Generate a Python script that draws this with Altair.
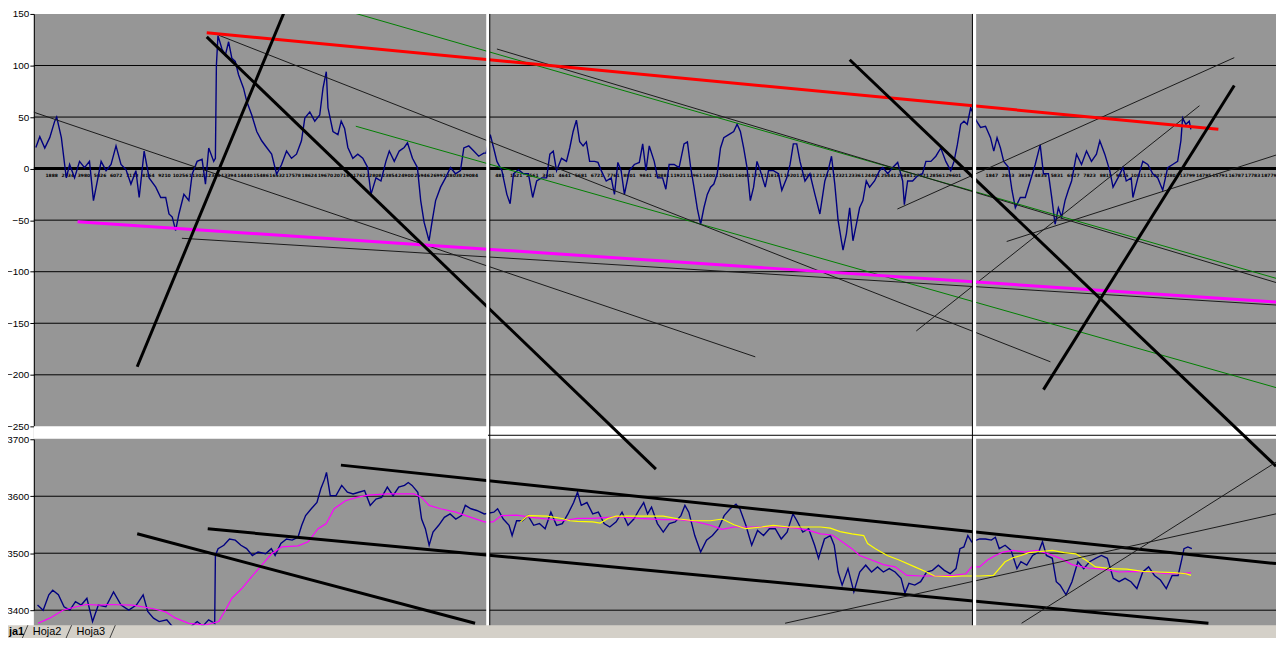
import altair as alt
import pandas as pd

# ---------------- panel scales (x = bar index, values in panel units) ----------------
X_DOMAIN = [34, 1284]
TOP_DOMAIN = [-250, 150]
BOT_DOMAIN = [3400, 3700]
TOP_TICKS = [150, 100, 50, 0, -50, -100, -150, -200, -250]
TOP_GRID = [100, 50, -50, -100, -150, -200]
TOP_ZERO = [0]
BOT_TICKS = [3700, 3600, 3500, 3400]
BOT_GRID = [3600, 3500, 3400]

# ---------------- top panel: oscillator ----------------
TOP_X = [36, 40, 45, 50, 55, 57, 61.7, 65, 66.7, 70, 75, 80, 85, 90, 94, 96.7, 101.7, 106.7, 111.7, 116.7,
         121.7, 126.7, 131.7, 136.7, 140, 145, 150, 156.7, 161.7, 166.7, 170, 173.3, 176.7, 180, 185, 190,
         193.3, 198.3, 203.3, 206.7, 210, 215, 216.7, 217.7, 219.3, 223.3, 226.7, 230, 233.3, 236.7, 240,
         245, 248.3, 253.3, 258.3, 263.3, 268.3, 273.3, 278.3, 283.3, 288.3, 293.3, 298.3, 303.3, 306.7,
         311.7, 316.7, 321.7, 325, 328.3, 330, 335, 340, 343.3, 346.7, 350, 355, 360, 365, 370, 373.3,
         378.3, 383.3, 388.3, 391.7, 396.7, 401.7, 406.7, 410, 415, 420, 423.3, 426.7, 431.7, 435, 438.3,
         443.3, 448.3, 453.3, 458.3, 463.3, 466.7, 471.7, 476.7, 481.7, 486.7, 489, 493.3, 496.7, 500, 505,
         510, 513.3, 516.7, 521.7, 526.7, 531.7, 536, 540, 545, 550, 553.3, 556.7, 560, 565, 570, 573.3,
         576.7, 580, 583.3, 586.7, 590, 593.3, 598.3, 601.7, 605, 610, 615, 618.3, 621.7, 625, 628.3, 633.3,
         638.3, 643.3, 646.7, 650, 653.3, 658.3, 661.7, 666.7, 670, 673.3, 678.3, 683.3, 688.3, 691.7, 695,
         698.3, 701.7, 705, 708.3, 711.7, 715, 718.3, 721.7, 725, 728.3, 733.3, 738.3, 741.7, 745, 748.3,
         751.7, 755, 758.3, 761.7, 765, 770, 773.3, 778.3, 783.3, 786.7, 791.7, 795, 798.3, 801.7, 805, 810,
         815, 820, 825, 830, 833.3, 836.7, 840, 843.3, 846.7, 848.3, 851.7, 855, 858.3, 861.7, 865, 868.3,
         871.7, 875, 880, 885, 888.3, 893.3, 898.3, 903.3, 908.3, 910, 913.3, 918.3, 923.3, 928.3, 931.7,
         936.7, 941.7, 946.7, 951.7, 956.7, 960, 963.3, 966.7, 970, 973.3, 976.7, 982.7, 986.7, 991.7, 996.7,
         1000, 1003.3, 1006.7, 1010, 1015, 1018.3, 1021.7, 1026.7, 1031.7, 1036.7, 1041.7, 1046.7, 1050, 1055,
         1058.3, 1061.7, 1065, 1068.3, 1071.7, 1075, 1078.3, 1083.3, 1088.3, 1093.3, 1098.3, 1103.3, 1106.7,
         1111.7, 1116.7, 1120, 1125, 1130, 1133.3, 1138.3, 1140, 1145, 1150, 1155, 1160, 1165, 1170, 1175,
         1180, 1185, 1188.3, 1190, 1193.3, 1196.7, 1198.3]
TOP_V = [20.5, 31, 20, 30, 46, 50, 30, 4, -9, 4, -9, 7, 1, 7, -31, -18, 7, -2, 4, 22,
         4, -1, -15, -2, -28, 17, -9, -18, -28, -28, -44, -47, -60, -44, -25, -31,
         -5.5, 7, 9, -15, 20, 7, 10, 100, 129, 116, 110, 123, 107, 104, 91,
         78, 65, 52, 36, 27, 20.5, 14, -5.5, 4, 17, 10, 14, 27, 49,
         55, 46, 52, 78, 94, 59, 36, 33, 46, 39, 20.5, 10, 14, 10, 1, -25,
         -9, -12, 7, 17, 7, 17, 20.5, 25, 10, 1, -31, -52, -70, -50, -31,
         -18, -9, 1, -5, -2, 20, 22, 17, 12, 15, 15, 33, 20, 7, -2,
         -25, -34, -5, -1, -5, -5, -28, -12, -9, -9, 14, 17, -2, 10, 7, 20,
         36, 47, 26, 22, 26, 7, 7, 6, -2, -12, -9, -25, 6, -2, -25, -2,
         4, 6, 24, -2, 22, 7, -9, -9, -20, 4, 4, 1, 24, 26, 1,
         -18, -39, -54, -38, -25, -18, -15, -5, 20, 30, 33, 36, 43, 36, 20,
         1, -31, -18, 7, -2, -18, -2, -2, -5, -21, -9, 4, 24, 24, 7, -12,
         -5, -25, -44, -12, -2, 12, -15, -50, -70, -79, -63, -38, -70, -54, -38, -31,
         -12, -18, -12, -2, 1, -5, 1, 6, -12, -35, -12, -12, -7, -5, 7,
         7, 12, 20, 7, -2, 7, 23, 43, 46, 43, 59, 46, 40, 41, 30,
         17, 30, 20, 7, 1, -21, -38, -28, -28, -12, 4, 23, -5, -5,
         -28, -54, -38, -47, -31, -21, -12, 14, 4, 17, 7, 14, 27,
         14, -2, -18, -9, 1, -12, -9, -28, -9, 7, 4, -5, -9, -21, 1,
         4, 7, 27, 49, 43, 46, 38]

# ---------------- bottom panel: price and two moving averages ----------------
BOT_X = [37.7, 43.4, 49.1, 53, 58.7, 64.4, 70.2, 75.9, 81.7, 87.4, 93.1, 98.9, 106.5, 114.2, 121.8, 129.5,
         137.2, 144, 148.6, 154.4, 160.1, 167.8, 175, 183, 191, 198.4, 204, 209.9, 216, 216.7, 219.4, 225.2,
         230.9, 236.7, 242.4, 248.1, 253.9, 259.6, 267.3, 273, 276.8, 282.6, 288.3, 294, 299.8, 303.6, 307.5,
         313.2, 318.9, 322.8, 326.6, 328.5, 332.3, 338.1, 343.8, 349.5, 355.3, 361, 366.8, 372.5, 378.3, 384,
         389.7, 395.5, 401.2, 407, 410.8, 414.6, 420.4, 424.2, 428, 431.8, 435.7, 441.4, 447.1, 452.9, 458.6,
         464.4, 468.2, 473.9, 479.7, 487.3, 496.9, 500.7, 506.4, 512.2, 515.3, 519.8, 525.6, 531.3, 537,
         542.8, 548.5, 554.3, 560, 565.8, 571.5, 577.2, 581.1, 584.9, 590.6, 596.4, 602.1, 607.9, 613.6,
         620, 625.9, 631.9, 637.8, 643.7, 647.7, 651.6, 655.6, 661.5, 667.4, 673.4, 679.3, 685.2, 689.2,
         693.1, 699.1, 705, 710.9, 716.9, 722.8, 728.7, 734.7, 740.6, 744.5, 750.5, 756.4, 762.3, 768.3,
         774.2, 780.1, 786.1, 792, 797.9, 801.9, 807.8, 813.7, 819.7, 823.6, 829.6, 835.5, 839.4, 843.4,
         847.4, 853.3, 859.2, 865.1, 871.1, 877, 883, 888.9, 894.8, 900.7, 906.7, 910.6, 914.6, 920.5,
         926.4, 932.4, 938.3, 944.2, 950.2, 956.1, 962, 966, 969.9, 973.9, 977.8, 985.7, 991.7, 997.6,
         1001.6, 1005.5, 1011.4, 1017.4, 1023.3, 1027.3, 1033.2, 1039.1, 1045.1, 1049, 1053, 1058.9, 1062.9,
         1066.8, 1072.7, 1078.7, 1084.6, 1090.5, 1096.5, 1102.4, 1108.3, 1114.3, 1120.2, 1126.1, 1132.1,
         1138, 1144, 1149.9, 1155.8, 1161.7, 1167.7, 1173.6, 1179.5, 1185.5, 1189.4, 1191.4, 1195.3, 1199.3]
BOT_V = [3409, 3400, 3427, 3435, 3427, 3406, 3400, 3415, 3409, 3421, 3380, 3409, 3406, 3432, 3409, 3400,
         3409, 3427, 3398, 3386, 3380, 3383, 3368, 3365, 3370, 3380, 3372, 3383, 3377, 3496, 3508, 3514,
         3525, 3523, 3514, 3508, 3496, 3502, 3499, 3508, 3496, 3517, 3525, 3523, 3528, 3549, 3566,
         3578, 3589, 3613, 3630, 3642, 3601, 3601, 3619, 3607, 3604, 3607, 3610, 3584, 3595, 3598,
         3616, 3601, 3616, 3619, 3624, 3619, 3607, 3560, 3543, 3514, 3537, 3549, 3563, 3569, 3560,
         3566, 3584, 3578, 3575, 3569, 3572, 3578, 3560, 3549, 3531, 3557, 3557, 3566, 3549,
         3552, 3543, 3572, 3549, 3552, 3569, 3589, 3607, 3584, 3589, 3569, 3572, 3552, 3546,
         3555, 3572, 3549, 3560, 3578, 3589, 3569, 3581, 3552, 3537, 3552, 3555, 3566, 3584,
         3572, 3531, 3502, 3523, 3531, 3543, 3566, 3578, 3586, 3578, 3549, 3514, 3540, 3531,
         3543, 3543, 3525, 3537, 3569, 3557, 3537, 3543, 3514, 3491, 3525, 3531, 3514, 3467,
         3444, 3473, 3432, 3467, 3479, 3467, 3476, 3467, 3473, 3467, 3456, 3430, 3447, 3444,
         3450, 3467, 3470, 3479, 3470, 3464, 3473, 3508, 3511, 3531, 3520, 3525, 3525, 3523,
         3528, 3508, 3514, 3505, 3473, 3485, 3479, 3496, 3502, 3520, 3496, 3491, 3450,
         3444, 3427, 3450, 3485, 3473, 3485, 3491, 3496, 3491, 3456, 3450, 3456,
         3450, 3438, 3467, 3476, 3461, 3453, 3438, 3461, 3461, 3491, 3508, 3511, 3508]

MA_PINK_X = [38.3, 50, 63.3, 76.7, 86.7, 100, 110, 133.3, 153.3, 166.7, 176.7, 190, 206.7, 220, 226.7, 233.3,
             243.3, 253.3, 263.3, 273.3, 283.3, 300, 310, 320, 328.3, 336.2, 347.6, 359.1, 370.6, 389.7, 405,
             416.5, 424.2, 431.8, 443.3, 458.6, 473.9, 487.3, 496.1, 504.5, 519.8, 535.1, 550.5, 565.8, 581.1,
             596.4, 611.7, 620, 643.7, 667.4, 683.3, 699.1, 714.9, 726.8, 738.6, 754.4, 770.3, 786.1, 801.9,
             813.7, 825.6, 837.5, 847.4, 857.2, 865.1, 877, 888.9, 900.7, 912.6, 928.4, 944.2, 960, 971.9,
             977.8, 985.7, 993.7, 1001.6, 1009.5, 1019.4, 1031.2, 1043.1, 1055, 1066.8, 1078.7, 1094.5, 1110.3,
             1126.1, 1141.9, 1157.7, 1173.6, 1185.5, 1198.5]
MA_PINK_V = [3377, 3386, 3400, 3406, 3410, 3409, 3410, 3409, 3403, 3397, 3386, 3377, 3374, 3380, 3400, 3421,
             3438, 3459, 3479, 3499, 3511, 3513, 3520, 3543, 3552, 3578, 3592, 3598, 3602, 3604, 3604,
             3604, 3598, 3584, 3578, 3572, 3563, 3555, 3555, 3566, 3567, 3563, 3560, 3557, 3561,
             3561, 3563, 3564, 3561, 3559, 3559, 3556, 3549, 3542, 3546, 3546, 3546, 3546, 3544,
             3540, 3534, 3532, 3520, 3508, 3496, 3488, 3480, 3476, 3461, 3460, 3460, 3461, 3464,
             3476, 3476, 3488, 3496, 3502, 3505, 3502, 3505, 3499, 3491, 3480, 3474, 3472,
             3467, 3468, 3467, 3464, 3464, 3466]

MA_YELLOW_X = [523.7, 531.3, 550.5, 565.8, 573.4, 581.1, 596.4, 604, 611.7, 620, 643.7, 667.4, 683.3, 699.1,
               714.9, 726.8, 738.6, 750.5, 766.3, 778.2, 794, 809.8, 825.6, 835.5, 845.4, 857.2, 869.1, 873,
               880.9, 892.8, 904.7, 920.5, 932.4, 940.3, 956.1, 967.9, 977.8, 985.7, 999.6, 1005.5, 1011.4,
               1019.4, 1027.3, 1035.2, 1047, 1058.9, 1070.8, 1082.6, 1092.5, 1102.4, 1118.2, 1134, 1149.9,
               1165.6, 1181.5, 1193.3, 1198.5]
MA_YELLOW_V = [3555, 3566, 3565, 3561, 3557, 3556, 3555, 3553, 3561, 3565, 3565, 3565, 3560, 3557,
               3557, 3560, 3550, 3543, 3546, 3549, 3546, 3546, 3546, 3544, 3538, 3534, 3531, 3517,
               3508, 3496, 3488, 3476, 3467, 3460, 3459, 3460, 3460, 3460, 3461, 3473, 3485,
               3492, 3496, 3501, 3503, 3505, 3501, 3499, 3488, 3476, 3473, 3472, 3468,
               3467, 3466, 3464, 3461]

# ---------------- hand-drawn trend lines: [x1, v1, x2, v2] ----------------
RED_TREND = [[208, 131.7, 1226, 38.2]]
PINK_TREND = [[78, -51.5, 1284, -129.5]]
THICK_TOP = [[138, -192.2, 286, 151.9], [208, 127.8, 660, -291.5],
             [855, 105.6, 1284, -288.6], [1050, -214.4, 1242, 80.6]]
THIN_TOP = [[0, 65.8, 760, -182.6], [220, 129.4, 1057, -187.4], [500, 116.0, 1284, -110.5],
            [183, -67.6, 1284, -132.3], [903, -39.2, 1242, 107.6], [922, -157.5, 1207, 61.0],
            [1013, -70.7, 1284, 13.1]]
GREEN_TOP = [[325, 159.6, 1284, -106.4], [358, 41.1, 1284, -212.4]]
THICK_BOT = [[343, 3654.6, 1284, 3481.8], [209, 3542.9, 1216, 3377.1], [138, 3534.2, 478, 3377.1]]
THIN_BOT = [[1028, 3377.1, 1284, 3659.9], [790, 3377.1, 1284, 3569.1]]

# ---------------- category labels printed along the zero line ----------------
CAT_LABELS_1 = ["1888", "2934", "3980", "5026", "6072", "7118", "8164", "9210", "10256", "11302", "12348",
                "13394", "14440", "15486", "16532", "17578", "18624", "19670", "20716", "21762", "22808",
                "23854", "24900", "25946", "26992", "28038", "29084"]
CAT_LABELS_2 = ["481", "1521", "2561", "3601", "4641", "5681", "6721", "7761", "8801", "9841", "10881",
                "11921", "12961", "14001", "15041", "16081", "17121", "18161", "19201", "20241", "21281",
                "22321", "23361", "24401", "25441", "26481", "27521", "28561", "29601"]
CAT_LABELS_3 = ["1847", "2843", "3839", "4835", "5831", "6827", "7823", "8819", "9815", "10811", "11807",
                "12803", "13799", "14795", "15791", "16787", "17783", "18779"]
CAT_START = [52, 503, 998]
CAT_STEP = [16.2, 16.3, 16.4]

# ---------------- window furniture ----------------
PANE_SPLITS = [491, 980.5]
PANE_SPLIT_LINES = [492.8, 978.5]
SPLIT_BAR = [[491, 3707, 1284, 3707]]
GAP_BAND = [[34, -250, 1284, -262.1]]
TAB_BAR = [[8, 3373.6, 1284, 3330]]
TAB_ACTIVE = ["ja1"]
TAB_ACTIVE_X = [9]
TAB_OTHERS = ["Hoja2", "Hoja3"]
TAB_OTHERS_X = [33, 77]
TAB_Y = 3361.5
TAB_EDGES = [[22, 3349.2, 28, 3373.6], [66, 3349.2, 72, 3373.6], [110, 3349.2, 116, 3373.6]]

# ---------------- chart ----------------
XS = alt.Scale(domain=X_DOMAIN, nice=False, zero=False)
YT = alt.Scale(domain=TOP_DOMAIN, range=[415, 0], nice=False, zero=False)
YB = alt.Scale(domain=BOT_DOMAIN, range=[600, 428], nice=False, zero=False)
AX_T = alt.Axis(values=TOP_TICKS, title=None, grid=False, labelFlush=False, labelOverlap=False,
                orient="left", labelFontSize=10, tickSize=4, labelPadding=1, format="d")
AX_B = alt.Axis(values=BOT_TICKS, title=None, grid=False, labelFlush=False, labelOverlap=False,
                orient="left", labelFontSize=10, tickSize=4, labelPadding=1, format="d")


def seg_df(segs):
    return pd.DataFrame(segs, columns=["x1", "v1", "x2", "v2"])


def segments(segs, ys, ax, color, width, clip=True):
    return alt.Chart(seg_df(segs)).mark_rule(color=color, strokeWidth=width, clip=clip).encode(
        x=alt.X("x1:Q", scale=XS, axis=None), x2="x2:Q",
        y=alt.Y("v1:Q", scale=ys, axis=ax), y2="v2:Q")


def band(segs, ys, ax, color, clip=True):
    return alt.Chart(seg_df(segs)).mark_rect(color=color, clip=clip).encode(
        x=alt.X("x1:Q", scale=XS, axis=None), x2="x2:Q",
        y=alt.Y("v1:Q", scale=ys, axis=ax), y2="v2:Q")


def series(xs, vs, ys, ax, color, width):
    return alt.Chart(pd.DataFrame({"x": xs, "v": vs})).mark_line(
        color=color, strokeWidth=width, clip=True, interpolate="linear").encode(
        x=alt.X("x:Q", scale=XS, axis=None), y=alt.Y("v:Q", scale=ys, axis=ax))


def hrules(vals, ys, ax, width):
    return alt.Chart(pd.DataFrame({"v": vals})).mark_rule(color="black", strokeWidth=width).encode(
        y=alt.Y("v:Q", scale=ys, axis=ax))


cat_rows = []
for labels, start, step in zip([CAT_LABELS_1, CAT_LABELS_2, CAT_LABELS_3], CAT_START, CAT_STEP):
    for i, lab in enumerate(labels):
        cat_rows.append({"x": start + i * step, "v": -7, "t": lab})
cat_text = alt.Chart(pd.DataFrame(cat_rows)).mark_text(
    fontSize=4.5, fontWeight="bold", color="black", font="DejaVu Sans", clip=True).encode(
    x=alt.X("x:Q", scale=XS, axis=None), y=alt.Y("v:Q", scale=YT, axis=AX_T), text="t:N")

top = alt.layer(
    band(GAP_BAND, YT, AX_T, "white"),
    hrules(TOP_GRID, YT, AX_T, 1),
    hrules(TOP_ZERO, YT, AX_T, 3),
    cat_text,
    series(TOP_X, TOP_V, YT, AX_T, "#000080", 1.4),
    segments(GREEN_TOP, YT, AX_T, "#008000", 1),
    segments(THIN_TOP, YT, AX_T, "#1a1a1a", 1),
    segments(PINK_TREND, YT, AX_T, "#ff00ff", 3),
    segments(RED_TREND, YT, AX_T, "#ff0000", 3),
    segments(THICK_TOP, YT, AX_T, "black", 3),
)

splits_white = alt.Chart(pd.DataFrame({"x": PANE_SPLITS})).mark_rule(color="white", strokeWidth=3.5).encode(
    x=alt.X("x:Q", scale=XS, axis=None))
splits_black = alt.Chart(pd.DataFrame({"x": PANE_SPLIT_LINES})).mark_rule(color="black", strokeWidth=1).encode(
    x=alt.X("x:Q", scale=XS, axis=None))
tab_active = alt.Chart(pd.DataFrame({"x": TAB_ACTIVE_X, "t": TAB_ACTIVE, "v": [TAB_Y]})).mark_text(
    align="left", baseline="middle", fontSize=11, fontWeight="bold", font="Liberation Sans", color="black").encode(
    x=alt.X("x:Q", scale=XS, axis=None), y=alt.Y("v:Q", scale=YB, axis=AX_B), text="t:N")
tab_others = alt.Chart(pd.DataFrame({"x": TAB_OTHERS_X, "t": TAB_OTHERS, "v": [TAB_Y] * 2})).mark_text(
    align="left", baseline="middle", fontSize=11, font="Liberation Sans", color="black").encode(
    x=alt.X("x:Q", scale=XS, axis=None), y=alt.Y("v:Q", scale=YB, axis=AX_B), text="t:N")

bottom = alt.layer(
    hrules(BOT_GRID, YB, AX_B, 1),
    series(BOT_X, BOT_V, YB, AX_B, "#000080", 1.4),
    series(MA_PINK_X, MA_PINK_V, YB, AX_B, "#ff00ff", 1.2),
    series(MA_YELLOW_X, MA_YELLOW_V, YB, AX_B, "#ffff00", 1.2),
    segments(THICK_BOT, YB, AX_B, "black", 3),
    segments(THIN_BOT, YB, AX_B, "#1a1a1a", 1),
    splits_white,
    splits_black,
    segments(SPLIT_BAR, YB, AX_B, "black", 1),
    band(TAB_BAR, YB, AX_B, "#d4d0c8", clip=False),
    segments(TAB_EDGES, YB, AX_B, "#404040", 1, clip=False),
    tab_active,
    tab_others,
)

chart = alt.layer(top, bottom).resolve_scale(y="independent").properties(
    width=1250, height=626,
    padding={"left": 26, "top": 4, "right": 0, "bottom": 0},
    autosize=alt.AutoSizeParams(type="none"),
    background="white",
).configure_view(fill="#969696", stroke=None).configure_axis(
    labelFont="Liberation Sans", labelColor="black", domainColor="black",
    tickColor="black", domainWidth=1, tickWidth=1)

chart.save("out.html", embed_options={"renderer": "svg", "actions": False})
